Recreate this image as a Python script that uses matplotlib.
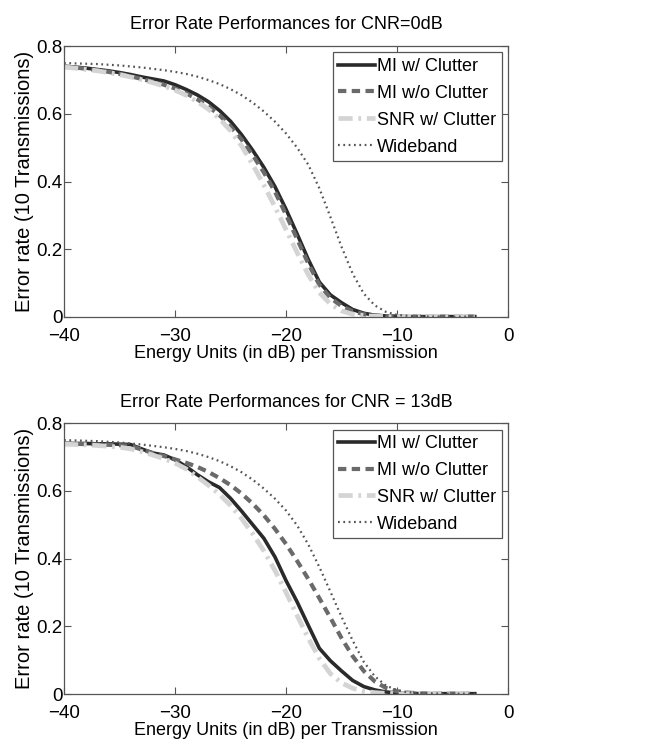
import numpy as np
import matplotlib
matplotlib.use("Agg")
import matplotlib.pyplot as plt

plt.rcParams['font.family'] = ['Liberation Sans', 'DejaVu Sans']

# Energy (dB) per transmission
energy_db = [-40, -39, -38, -37, -36, -35, -34, -33, -32, -31,
             -30, -29, -28, -27, -26, -25, -24, -23, -22, -21,
             -20, -19, -18, -17, -16, -15, -14, -13, -12, -11,
             -10, -9, -8, -7, -6, -5, -4, -3]

# ---- CNR = 0 dB ----
top_mi_clutter = [0.740, 0.738, 0.735, 0.731, 0.727, 0.722, 0.716, 0.709, 0.703, 0.697,
                  0.686, 0.672, 0.656, 0.636, 0.610, 0.578, 0.538, 0.492, 0.442, 0.385,
                  0.318, 0.245, 0.170, 0.103, 0.065, 0.042, 0.022, 0.011, 0.005, 0.003,
                  0.002, 0.001, 0.001, 0.001, 0.001, 0.001, 0.001, 0.001]
top_mi_noclutter = [0.740, 0.737, 0.733, 0.729, 0.724, 0.718, 0.711, 0.703, 0.695, 0.686,
                    0.675, 0.661, 0.643, 0.622, 0.596, 0.563, 0.524, 0.478, 0.427, 0.370,
                    0.302, 0.230, 0.158, 0.095, 0.056, 0.032, 0.017, 0.008, 0.004, 0.002,
                    0.001, 0.001, 0.001, 0.001, 0.001, 0.001, 0.001, 0.001]
top_snr_clutter = [0.738, 0.735, 0.731, 0.727, 0.722, 0.716, 0.709, 0.701, 0.692, 0.682,
                   0.670, 0.655, 0.636, 0.614, 0.586, 0.550, 0.505, 0.450, 0.390, 0.325,
                   0.258, 0.190, 0.125, 0.072, 0.038, 0.018, 0.008, 0.004, 0.002, 0.001,
                   0.001, 0.001, 0.001, 0.001, 0.001, 0.001, 0.001, 0.001]
top_wideband = [0.750, 0.749, 0.748, 0.747, 0.745, 0.743, 0.740, 0.737, 0.733, 0.729,
                0.724, 0.718, 0.710, 0.700, 0.688, 0.673, 0.655, 0.633, 0.607, 0.577,
                0.542, 0.500, 0.450, 0.380, 0.295, 0.207, 0.128, 0.069, 0.034, 0.015,
                0.006, 0.003, 0.002, 0.001, 0.001, 0.001, 0.001, 0.001]

# ---- CNR = 13 dB ----
bot_mi_clutter = [0.740, 0.740, 0.740, 0.739, 0.739, 0.738, 0.737, 0.724, 0.712, 0.706,
                  0.692, 0.672, 0.648, 0.627, 0.610, 0.578, 0.540, 0.500, 0.460, 0.405,
                  0.335, 0.272, 0.203, 0.135, 0.098, 0.068, 0.040, 0.022, 0.012, 0.006,
                  0.003, 0.002, 0.001, 0.001, 0.001, 0.001, 0.001, 0.001]
bot_mi_noclutter = [0.740, 0.739, 0.738, 0.737, 0.736, 0.735, 0.733, 0.722, 0.712, 0.703,
                    0.693, 0.683, 0.671, 0.656, 0.638, 0.617, 0.592, 0.562, 0.528, 0.488,
                    0.443, 0.393, 0.340, 0.283, 0.225, 0.165, 0.112, 0.068, 0.037, 0.018,
                    0.008, 0.004, 0.002, 0.001, 0.001, 0.001, 0.001, 0.001]
bot_snr_clutter = [0.738, 0.737, 0.736, 0.734, 0.732, 0.729, 0.724, 0.716, 0.706, 0.695,
                   0.682, 0.665, 0.642, 0.617, 0.590, 0.557, 0.518, 0.473, 0.423, 0.365,
                   0.300, 0.232, 0.165, 0.105, 0.060, 0.033, 0.017, 0.008, 0.004, 0.002,
                   0.001, 0.001, 0.001, 0.001, 0.001, 0.001, 0.001, 0.001]
bot_wideband = [0.750, 0.749, 0.748, 0.747, 0.745, 0.743, 0.740, 0.737, 0.733, 0.729,
                0.724, 0.718, 0.710, 0.700, 0.688, 0.673, 0.655, 0.633, 0.607, 0.577,
                0.542, 0.498, 0.442, 0.375, 0.302, 0.228, 0.158, 0.095, 0.052, 0.025,
                0.011, 0.005, 0.003, 0.002, 0.001, 0.001, 0.001, 0.001]

titles = ["Error Rate Performances for CNR=0dB", "Error Rate Performances for CNR = 13dB"]
labels = ["MI w/ Clutter", "MI w/o Clutter", "SNR w/ Clutter", "Wideband"]
xticks = [-40, -30, -20, -10, 0]
yticks = [0, 0.2, 0.4, 0.6, 0.8]
ytick_labels = ["0", "0.2", "0.4", "0.6", "0.8"]
xtick_labels = ["\u221240", "\u221230", "\u221220", "\u221210", "0"]

styles = [
    dict(color="#2a2a2a", lw=2.6, ls="-"),
    dict(color="#6a6a6a", lw=3.0, ls=(0, (2.0, 1.3))),
    dict(color="#d4d4d4", lw=3.4, ls=(0, (3.0, 1.2, 0.6, 1.2))),
    dict(color="#555555", lw=1.6, ls=(0, (0.8, 1.6))),
]

fig = plt.figure(figsize=(6.55, 7.44), dpi=100)
axes_pos = [[0.0977, 0.574, 0.678, 0.364], [0.0977, 0.0672, 0.678, 0.364]]
data = [[top_mi_clutter, top_mi_noclutter, top_snr_clutter, top_wideband],
        [bot_mi_clutter, bot_mi_noclutter, bot_snr_clutter, bot_wideband]]

for pos, title, series in zip(axes_pos, titles, data):
    ax = fig.add_axes(pos)
    for y, lab, st in zip(series, labels, styles):
        ax.plot(energy_db, y, label=lab, **st)
    ax.set_xlim(-40, 0)
    ax.set_ylim(0, 0.8)
    ax.set_xticks(xticks)
    ax.set_xticklabels(xtick_labels)
    ax.set_yticks(yticks)
    ax.set_yticklabels(ytick_labels)
    ax.tick_params(direction="in", top=True, right=True, length=5, width=0.8,
                   labelsize=13.5, color="#555555")
    ax.tick_params(axis="x", pad=8)
    ax.tick_params(axis="y", pad=1)
    for sp in ax.spines.values():
        sp.set_color("#555555")
        sp.set_linewidth(0.9)
    ax.set_title(title, fontsize=13, pad=12)
    ax.set_xlabel("Energy Units (in dB) per Transmission", fontsize=13, labelpad=0)
    ax.set_ylabel("Error rate (10 Transmissions)", fontsize=14.5, labelpad=2)
    leg = ax.legend(loc="upper right", fontsize=13, handlelength=2.05, handletextpad=0.1,
                    borderaxespad=0.35, borderpad=0.3, labelspacing=0.55,
                    fancybox=False, framealpha=1)
    leg.get_frame().set_edgecolor("#555555")
    leg.get_frame().set_linewidth(0.9)

fig.savefig("out.png", dpi=100)
